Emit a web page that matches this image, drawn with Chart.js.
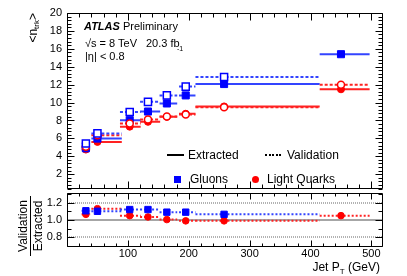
<!DOCTYPE html>
<html>
<head>
<meta charset="utf-8">
<script src="https://cdn.jsdelivr.net/npm/chart.js@4"></script>
<style>
body { margin: 0; background: #fff; font-family: "Liberation Sans", Arial, sans-serif; }
#wrap { position: relative; width: 407px; height: 276px; overflow: hidden; }
canvas { position: absolute; left: 0; }
.t { position: absolute; white-space: nowrap; font-size: 11px; line-height: 1; color: #000; }
.lg { font-size: 12px; }
.rot { transform-origin: left top; transform: rotate(-90deg); }
</style>
</head>
<body>
<div id="wrap">
  <canvas id="main" width="407" height="190" style="top:0"></canvas>
  <canvas id="ratio" width="407" height="86" style="top:190px"></canvas>

  <div class="t" style="left:84px;top:20.5px"><b><i>ATLAS</i></b> Preliminary</div>
  <div class="t" style="left:85px;top:37.5px">&radic;s = 8 TeV</div>
  <div class="t" style="left:146px;top:37.5px">20.3 fb</div>
  <div class="t" style="left:177px;top:45px;font-size:7px">-1</div>
  <div class="t" style="left:85px;top:50.5px">|&eta;| &lt; 0.8</div>

  <!-- legend -->
  <div style="position:absolute;left:167px;top:154px;width:17px;height:2px;background:#000"></div>
  <div class="t lg" style="left:188px;top:149px">Extracted</div>
  <div style="position:absolute;left:265px;top:154px;width:17px;height:2px;background:repeating-linear-gradient(90deg,#000 0 2px,transparent 2px 3.5px)"></div>
  <div class="t lg" style="left:287px;top:149px">Validation</div>
  <div style="position:absolute;left:174px;top:175.5px;width:7px;height:7px;background:#0000ff"></div>
  <div class="t lg" style="left:190px;top:173px">Gluons</div>
  <div style="position:absolute;left:251.5px;top:175.5px;width:7px;height:7px;border-radius:50%;background:#ff0000"></div>
  <div class="t lg" style="left:267px;top:173px">Light Quarks</div>

  <!-- axis titles -->
  <div class="t rot" style="left:27px;top:73px;width:60px;text-align:right;font-size:12px">&lt;n<sub style="font-size:8px;vertical-align:-2px">trk</sub>&gt;</div>
  <div class="rot" style="position:absolute;left:16px;top:256px;width:60px;text-align:center;font-size:12px;line-height:14px">
    <div style="border-bottom:1px solid #000">Validation</div>
    <div>Extracted</div>
  </div>
  <div class="t" style="right:27px;top:261px;font-size:12px">Jet P<sub style="font-size:8px;vertical-align:-3px">T</sub> (GeV)</div>
</div>

<script>
// jet pT bins (GeV)
const ptCenter = [31, 50, 103, 133, 164, 195, 258, 450];
const binLo = [24, 40, 87, 120, 152, 184, 211, 415];
const binHi = [38, 90, 121, 153, 181, 211, 415, 497];

// <n_trk>
const gluonExtracted = [4.9, 5.98, 8.03, 9.0, 9.9, 10.8, 12.07, 15.4];
const gluonValidation = [5.42, 6.56, 8.95, 10.08, 10.8, 11.78, 12.86];
const quarkExtracted = [4.75, 5.61, 7.31, 7.85, 8.41, 8.75, 9.57, 11.48];
const quarkValidation = [5.08, 6.35, 7.67, 8.11, 8.44, 8.67, 9.48, 11.98];

// validation / extracted
const gluonRatio = [1.106, 1.10, 1.12, 1.12, 1.09, 1.09, 1.065];
const quarkRatio = [1.065, 1.13, 1.05, 1.035, 1.005, 0.99, 0.99, 1.05];

const mainYTicks = [2, 4, 6, 8, 10, 12, 14, 16, 18, 20];
const ratioYTicks = [0.8, 1, 1.2];
const xTicks = [100, 200, 300, 400, 500];

const BLUE = '#0000ff', BLUE_LINE = '#3344ff', RED = '#ff0000', RED_LINE = '#ff2222';
const FONT = { family: '"Liberation Sans", Arial, sans-serif', size: 11 };

function binLines(vals) {
    const out = [];
    vals.forEach((v, i) => {
        out.push({ x: binLo[i], y: v }, { x: binHi[i], y: v }, { x: binHi[i], y: null });
    });
    return out;
}

function markers(vals) {
    return vals.map((v, i) => ({ x: ptCenter[i], y: v }));
}

function range(a, b, step) {
    const r = [];
    for (let v = a; v <= b + 1e-9; v += step) r.push(+v.toFixed(4));
    return r;
}

// frame with inward ticks on all four sides, ROOT style
const frameTicks = {
    id: 'frameTicks',
    afterDraw(chart, args, o) {
        const { ctx, chartArea: a, scales: { x, y } } = chart;
        ctx.save();
        ctx.strokeStyle = '#000';
        ctx.lineWidth = 1;
        ctx.beginPath();
        const l = Math.round(a.left) + 0.5, r = Math.round(a.right) - 0.5;
        const t = Math.round(a.top) + 0.5, b = Math.round(a.bottom) - 0.5;
        ctx.rect(l, t, r - l, b - t);
        const xt = (vals, len) => vals.forEach(v => {
            if (v < x.min || v > x.max) return;
            const px = Math.round(x.getPixelForValue(v)) + 0.5;
            ctx.moveTo(px, b); ctx.lineTo(px, b - len);
            ctx.moveTo(px, t); ctx.lineTo(px, t + len);
        });
        const yt = (vals, len) => vals.forEach(v => {
            if (v < y.min || v > y.max) return;
            const py = Math.round(y.getPixelForValue(v)) + 0.5;
            ctx.moveTo(l, py); ctx.lineTo(l + len, py);
            ctx.moveTo(r, py); ctx.lineTo(r - len, py);
        });
        xt(o.xMajor, o.xMajorLen); xt(o.xMinor, o.xMinorLen);
        yt(o.yMajor, o.yMajorLen); yt(o.yMinor, o.yMinorLen);
        ctx.stroke();
        ctx.restore();
    }
};

// reference lines in the ratio pad
const refLines = {
    id: 'refLines',
    beforeDatasetsDraw(chart, args, o) {
        if (!o.enabled) return;
        const { ctx, chartArea: a, scales: { y } } = chart;
        ctx.save();
        ctx.strokeStyle = '#999';
        ctx.lineWidth = 1.5;
        ctx.setLineDash([1, 1]);
        [0.8, 1.2].forEach(v => {
            const py = Math.round(y.getPixelForValue(v));
            ctx.beginPath(); ctx.moveTo(a.left, py); ctx.lineTo(a.right, py); ctx.stroke();
        });
        ctx.setLineDash([]);
        ctx.strokeStyle = '#888';
        const p1 = Math.round(y.getPixelForValue(1));
        ctx.beginPath(); ctx.moveTo(a.left, p1); ctx.lineTo(a.right, p1); ctx.stroke();
        ctx.restore();
    }
};

Chart.register(frameTicks, refLines);

function lineSet(data, color, dash) {
    return { data, showLine: true, borderColor: color, borderWidth: 2, borderDash: dash || [],
             pointRadius: 0, spanGaps: false, order: 2 };
}
function markerSet(data, color, style, open, r) {
    return { data, showLine: false, pointStyle: style, pointRadius: r,
             pointBackgroundColor: open ? '#fff' : color, pointBorderColor: color,
             pointBorderWidth: open ? 1.5 : 1, order: 1 };
}

// pin the plot frames to fixed pixel boxes
function fixY(s) { s.width = 67; s.paddingTop = 0; s.paddingBottom = 0; }
function fixX(h) { return s => { s.height = h; s.paddingLeft = 0; s.paddingRight = 0; }; }

const xMinorTicks = range(0, 520, 20);
const commonOpts = {
    responsive: false,
    animation: false,
    events: [],
    plugins: { legend: { display: false }, tooltip: { enabled: false } }
};

new Chart(document.getElementById('main'), {
    type: 'scatter',
    data: {
        datasets: [
            markerSet(markers(gluonValidation), BLUE, 'rect', true, 5),
            markerSet(markers(quarkValidation), RED, 'circle', true, 3.5),
            markerSet(markers(gluonExtracted), BLUE, 'rect', false, 5),
            markerSet(markers(quarkExtracted), RED, 'circle', false, 3.5),
            lineSet(binLines(gluonValidation), BLUE_LINE, [3, 2]),
            lineSet(binLines(quarkValidation), RED_LINE, [3, 2]),
            lineSet(binLines(gluonExtracted), BLUE_LINE),
            lineSet(binLines(quarkExtracted), RED_LINE)
        ]
    },
    options: {
        ...commonOpts,
        layout: { autoPadding: false, padding: { left: 0, right: 24, top: 13, bottom: 1 } },
        scales: {
            x: {
                type: 'linear', min: 0, max: 519,
                grid: { display: false }, border: { display: false },
                ticks: { display: false },
                afterFit: fixX(0)
            },
            y: {
                min: 0.35, max: 20,
                grid: { display: false, drawTicks: false }, border: { display: false },
                afterBuildTicks: s => { s.ticks = mainYTicks.map(v => ({ value: v })); },
                ticks: { color: '#000', font: FONT, padding: 5 },
                afterFit: fixY
            }
        },
        plugins: {
            ...commonOpts.plugins,
            frameTicks: {
                xMajor: xTicks, xMinor: xMinorTicks, xMajorLen: 7, xMinorLen: 4,
                yMajor: mainYTicks, yMinor: range(0.4, 20, 0.4), yMajorLen: 7, yMinorLen: 4
            }
        }
    }
});

new Chart(document.getElementById('ratio'), {
    type: 'scatter',
    data: {
        datasets: [
            markerSet(markers(gluonRatio), BLUE, 'rect', false, 4.5),
            markerSet(markers(quarkRatio), RED, 'circle', false, 3.3),
            lineSet(binLines(gluonRatio), BLUE_LINE, [2, 2]),
            lineSet(binLines(quarkRatio), RED_LINE, [2, 2])
        ]
    },
    options: {
        ...commonOpts,
        layout: { autoPadding: false, padding: { left: 0, right: 24, top: 3, bottom: 0 } },
        scales: {
            x: {
                type: 'linear', min: 0, max: 519,
                grid: { display: false, drawTicks: false }, border: { display: false },
                afterBuildTicks: s => { s.ticks = xTicks.map(v => ({ value: v })); },
                ticks: { color: '#000', font: FONT, padding: 0, maxRotation: 0 },
                afterFit: fixX(29)
            },
            y: {
                min: 0.69, max: 1.31,
                grid: { display: false, drawTicks: false }, border: { display: false },
                afterBuildTicks: s => { s.ticks = ratioYTicks.map(v => ({ value: v })); },
                ticks: { color: '#000', font: FONT, padding: 5 },
                afterFit: fixY
            }
        },
        plugins: {
            ...commonOpts.plugins,
            refLines: { enabled: true },
            frameTicks: {
                xMajor: xTicks, xMinor: xMinorTicks, xMajorLen: 6, xMinorLen: 3,
                yMajor: ratioYTicks, yMinor: [0.7, 0.9, 1.1, 1.3], yMajorLen: 7, yMinorLen: 4
            }
        }
    }
});
</script>
</body>
</html>
